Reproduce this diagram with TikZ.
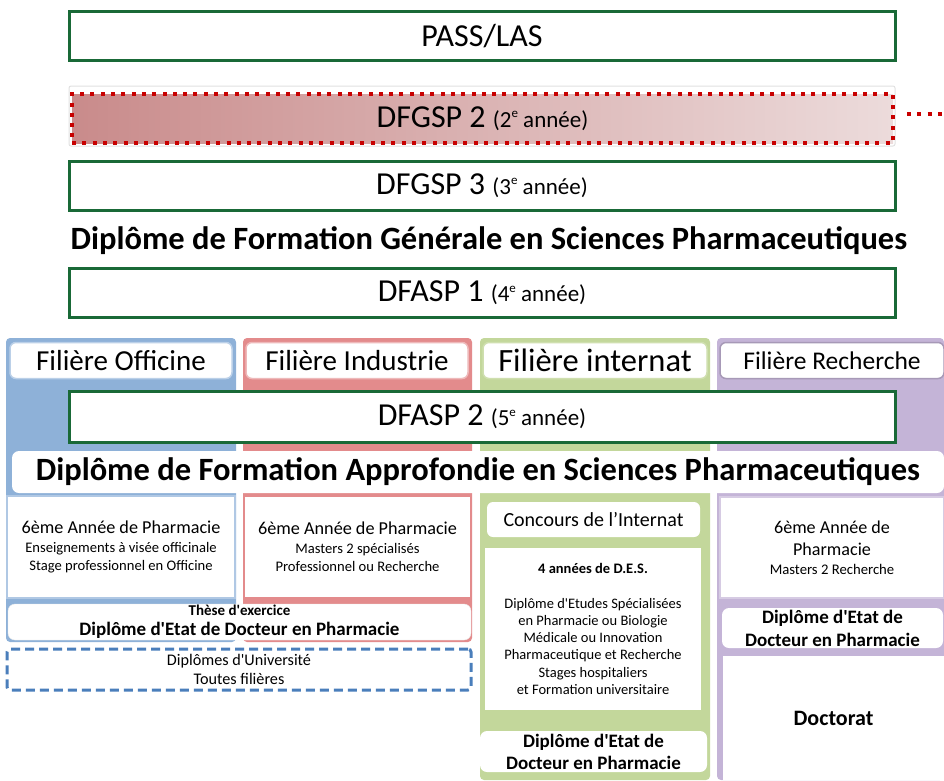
\documentclass[tikz,border=0pt]{standalone}
\usepackage{fontspec}
\setmainfont{Carlito}[Ligatures=TeXOff]

\definecolor{boxgreen}{RGB}{25,105,55}
\definecolor{offblue}{RGB}{142,177,216}
\definecolor{indred}{RGB}{227,139,140}
\definecolor{intgreen}{RGB}{195,215,155}
\definecolor{recpurple}{RGB}{196,180,215}
\definecolor{dotred}{RGB}{200,0,0}
\definecolor{dashblue}{RGB}{74,126,187}
\definecolor{gradl}{RGB}{201,139,139}
\definecolor{gradr}{RGB}{236,219,219}

\newcommand{\sz}[2]{\fontsize{#1}{#2}\selectfont}
\newcommand{\annee}[1]{{\sz{23}{23}(#1\raisebox{0.42em}{\sz{13}{13}e} année)}}

\begin{document}
\begin{tikzpicture}[x=1pt,y=-1pt,
		yearbox/.style={draw=boxgreen, line width=3pt, fill=white, minimum width=826pt, minimum height=49pt, inner sep=0pt, text=black},
		headbox/.style={fill=white, rounded corners=6pt, line width=1.5pt, minimum height=36pt, inner sep=0pt},
		whitebox/.style={fill=white, line width=1.2pt, align=center, inner sep=0pt},
		diplbox/.style={fill=white, rounded corners=7pt, align=center, inner sep=0pt},
		dotline/.style={dotred, line width=4pt, dash pattern=on 4pt off 6.3pt}]
	\useasboundingbox (0,0) rectangle (944,780);

	% Premier cycle
	\node[yearbox] (pass) at (482,36) {\sz{32}{34}PASS/LAS};
	\draw[black!12, line width=1pt, rounded corners=2pt] (69,86) rectangle (895,146);
	\node[yearbox, dotline, text=black, left color=gradl, right color=gradr, minimum width=821pt] (dfgsp2) at (482.5,118.5) {\sz{32}{34}DFGSP 2 \annee{2}};
	\coordinate (stubend) at (944,114);
	\draw[dotline] ([xshift=12pt,yshift=4.5pt]dfgsp2.east) -- (stubend);
	\node[yearbox] (dfgsp3) at (482,185.5) {\sz{32}{34}DFGSP 3 \annee{3}};
	\node[font=\bfseries] (dfgsptitle) at (489,241) {\sz{32.5}{34}Diplôme de Formation Générale en Sciences Pharmaceutiques};
	\node[yearbox] (dfasp1) at (482,293) {\sz{32}{34}DFASP 1 \annee{4}};

	% Filieres
	\foreach \x/\w/\h/\c in {6/230/642/offblue, 243/229/642/indred, 480/230/780/intgreen, 717/227/780/recpurple}
		\fill[\c, rounded corners=4pt] (\x,338) rectangle ++(\w,\h-338);

	% Filiere headers
	\node[headbox, draw=offblue!60!white, minimum width=222pt] (officine) at (121,360.5) {\sz{29}{30}Filière Officine};
	\node[headbox, draw=indred!60!white, minimum width=222pt] (industrie) at (357,360.5) {\sz{29}{30}Filière Industrie};
	\node[headbox, draw=intgreen!80!white, minimum width=224pt] (internat) at (595,360.5) {\sz{32.5}{33}Filière internat};
	\node[headbox, draw=recpurple!85!black, minimum width=224pt] (recherche) at (832,360.5) {\sz{25.5}{27}Filière Recherche};

	% Second cycle
	\node[yearbox, minimum height=51pt] (dfasp2) at (482,417) {\sz{32}{34}DFASP 2 \annee{5}};
	\node[diplbox, minimum width=932pt, minimum height=42pt, font=\bfseries] (dfasptitle) at (478,472) {\sz{32.5}{34}Diplôme de Formation Approfondie en Sciences Pharmaceutiques};

	% Officine and Industrie
	\node[whitebox, draw=offblue!70!white, minimum width=228pt, minimum height=102pt, font=\sz{14.6}{18.5}] (offsix) at (121,547) {{\sz{18.2}{19}6ème Année de Pharmacie}\\Enseignements à visée officinale\\Stage professionnel en Officine};
	\node[whitebox, draw=indred, minimum width=227pt, minimum height=102pt, font=\sz{14.6}{18.5}] (indsix) at (357.5,547) {{\sz{18.2}{19}6ème Année de Pharmacie}\\Masters 2 spécialisés\\Professionnel ou Recherche};
	\node[diplbox, draw=black!8, minimum width=463pt, minimum height=36pt, font=\bfseries\sz{15}{20}] (these) at (239.5,622) {Thèse d'exercice\\{\sz{19}{20}Diplôme d'Etat de Docteur en Pharmacie}};
	\node[draw=dashblue, line width=3pt, dash pattern=on 9pt off 5pt, rounded corners=3pt, minimum width=464pt, minimum height=41pt, align=center, inner sep=0pt, font=\sz{16.2}{19}] (univ) at (239,669.5) {Diplômes d'Université\\Toutes filières};

	% Internat
	\node[headbox, minimum width=213pt, minimum height=35pt] (concours) at (593.5,519.5) {\sz{20}{22}Concours de l’Internat};
	\node[whitebox, minimum width=216pt, minimum height=162pt, font=\sz{14.5}{17.3}] (des) at (593,629) {{\bfseries 4 années de D.E.S.}\\[17.3pt]Diplôme d'Etudes Spécialisées\\en Pharmacie ou Biologie\\Médicale ou Innovation\\Pharmaceutique et Recherche\\Stages hospitaliers\\et Formation universitaire};
	\node[diplbox, minimum width=227pt, minimum height=41pt, font=\bfseries\sz{19}{22}] (intdipl) at (593.5,751.5) {Diplôme d'Etat de\\Docteur en Pharmacie};

	% Recherche
	\node[whitebox, draw=recpurple!70!white, minimum width=224pt, minimum height=101pt, font=\sz{14.7}{19}] (recsix) at (832,547.5) {{\sz{18.1}{19}6ème Année de}\\[3pt]{\sz{18.1}{19}Pharmacie}\\Masters 2 Recherche};
	\node[diplbox, minimum width=221pt, minimum height=40pt, font=\bfseries\sz{19}{23}] (recdipl) at (832.5,628) {Diplôme d'Etat de\\Docteur en Pharmacie};
	\node[whitebox, minimum width=221pt, minimum height=124pt, font=\bfseries\sz{22}{24}] (doctorat) at (833.5,718) {Doctorat};

\end{tikzpicture}
\end{document}
